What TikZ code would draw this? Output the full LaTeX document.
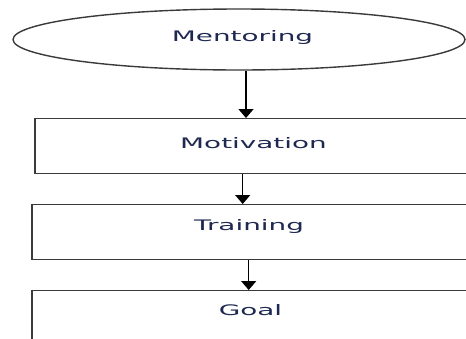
\documentclass[tikz,border=0pt]{standalone}
\usepackage{fontspec}
\usepackage{tikz}
\usetikzlibrary{shapes.geometric,arrows.meta,positioning}
\newfontfamily\chartfont{DejaVu Sans}
\definecolor{ink}{RGB}{30,40,80}
\definecolor{rule}{RGB}{58,58,58}

\begin{document}
\begin{tikzpicture}[
    x=1pt, y=-1pt,
    oval/.style={ellipse, draw=rule, line width=1.4pt, minimum width=452pt, minimum height=61pt, inner sep=0pt},
    box/.style={rectangle, draw=rule, line width=1.4pt, anchor=north west, minimum width=438pt, minimum height=55pt},
    txt/.style={font=\chartfont\fontsize{14.5}{17}\selectfont, text=ink, anchor=base, inner sep=0pt, xscale=1.92, transform shape},
    sideline/.style={draw=rule, line width=2.6pt},
    flow/.style={-{Triangle[width=15pt,length=9pt]}, draw=black, line width=1.5pt}
]
    \path[use as bounding box, clip] (0,0) rectangle (466,338);
    \fill[white] (0,0) rectangle (466,338);

    \node[oval] (mentor) at (239,39.5) {};
    \node[box, minimum width=437pt] (motiv) at (35,118) {};
    \node[box] (train) at (32,204) {};
    \node[box, minimum height=60pt] (goal) at (32,290) {};

    % heavier left edges
    \draw[sideline] (motiv.north west) -- (motiv.south west);
    \draw[sideline] (train.north west) -- (train.south west);
    \draw[sideline] (goal.north west) -- (goal.south west);

    \node[txt] (mentortxt) at (242.5,41) {Mentoring};
    \node[txt] (motivtxt) at (253.5,148.5) {Motivation};
    \node[txt] (traintxt) at (249,230.5) {Training};
    \node[txt] (goaltxt) at (250.5,315.7) {Goal};

    \draw[flow] ([xshift=7pt]mentor.south) -- ([xshift=7pt]mentor.south |- motiv.north);
    \draw[flow] ([xshift=-11.5pt]motiv.south) -- ([xshift=-11.5pt]motiv.south |- train.north);
    \draw[flow] ([xshift=-3pt]train.south) -- ([xshift=-3pt]train.south |- goal.north);
\end{tikzpicture}
\end{document}
